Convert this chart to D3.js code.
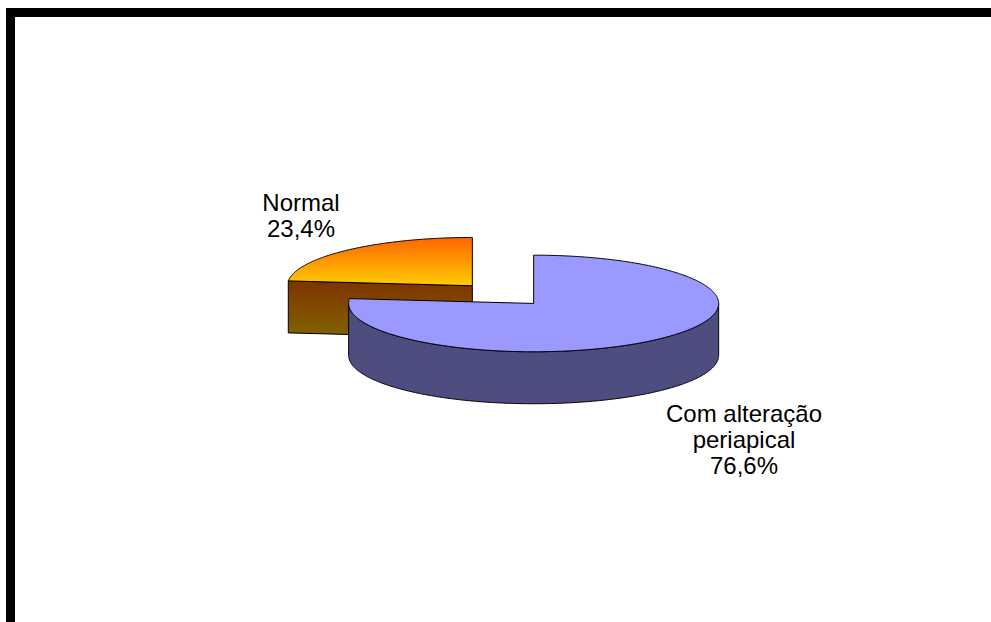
<!DOCTYPE html>
<html>
<head>
<meta charset="utf-8">
<script src="https://cdn.jsdelivr.net/npm/d3@7/dist/d3.min.js"></script>
<style>
  html, body { margin: 0; padding: 0; background: #ffffff; }
  svg { display: block; }
</style>
</head>
<body>
<svg id="chart" width="991" height="622"></svg>
<script>
// Distribution of radiographic findings
const categories = ["Com alteração periapical", "Normal"];
const values = [76.6, 23.4];
const valueLabels = ["76,6%", "23,4%"];
const labelLines = [["Com alteração", "periapical"], ["Normal"]];

const W = 991, H = 622;
const svg = d3.select("#chart");

// 3D pie geometry (tilted ellipse with extruded sides)
const cx0 = 503, cy0 = 294.6;
const rx = 185, ry = 48.3, depth = 52;
const explode = 0.247;

const defs = svg.append("defs");

const topFill = ["#9999FF", "url(#orangeTop)"];
const sideFill = ["#4D4D80", "url(#orangeSide)"];

const gTop = defs.append("linearGradient").attr("id", "orangeTop")
  .attr("x1", 0).attr("y1", 0).attr("x2", 0).attr("y2", 1);
gTop.append("stop").attr("offset", "0%").attr("stop-color", "#FF6600");
gTop.append("stop").attr("offset", "100%").attr("stop-color", "#FFCC00");

const gSide = defs.append("linearGradient").attr("id", "orangeSide")
  .attr("x1", 0).attr("y1", 0).attr("x2", 0).attr("y2", 1);
gSide.append("stop").attr("offset", "0%").attr("stop-color", "#7F3300");
gSide.append("stop").attr("offset", "100%").attr("stop-color", "#806400");

// Angles: clockwise from 12 o'clock, in data order
const pie = d3.pie().sort(null).value(d => d.v).startAngle(0).endAngle(2 * Math.PI);
const arcs = pie(values.map((v, i) => ({ v, i })));

const TAU = 2 * Math.PI;
const line = d3.line();

arcs.forEach(a => {
  const mid = (a.startAngle + a.endAngle) / 2;
  a.cx = cx0 + explode * rx * Math.sin(mid);
  a.cy = cy0 - explode * ry * Math.cos(mid);
});

function pt(a, ang, dy) {
  return [a.cx + rx * Math.sin(ang), a.cy - ry * Math.cos(ang) + (dy || 0)];
}

function arcPoints(a, a0, a1, dy) {
  const n = Math.max(2, Math.ceil(Math.abs(a1 - a0) / 0.01));
  return d3.range(n + 1).map(k => pt(a, a0 + (a1 - a0) * k / n, dy));
}

// Back slices first
const order = arcs.slice().sort((p, q) => p.cy - q.cy);

order.forEach(a => {
  const g = svg.append("g");
  const i = a.data.i;

  // radial walls facing the viewer
  const walls = [
    { ang: a.startAngle, normal: a.startAngle - Math.PI / 2 },
    { ang: a.endAngle, normal: a.endAngle + Math.PI / 2 }
  ];
  walls.forEach(w => {
    if (-Math.cos(w.normal) > 1e-3) {
      const c = [a.cx, a.cy];
      const e = pt(a, w.ang);
      const poly = [c, e, [e[0], e[1] + depth], [c[0], c[1] + depth]];
      g.append("path").attr("d", line(poly) + "Z")
        .attr("fill", sideFill[i]).attr("stroke", "#000").attr("stroke-width", 1)
        .attr("stroke-linejoin", "round");
    }
  });

  // outer curved wall: only the front half (between 90° and 270°)
  [[Math.PI / 2, 3 * Math.PI / 2]].forEach(([f0, f1]) => {
    for (let shift = -TAU; shift <= TAU; shift += TAU) {
      const s = Math.max(a.startAngle, f0 + shift);
      const e = Math.min(a.endAngle, f1 + shift);
      if (e - s > 1e-3) {
        const topPts = arcPoints(a, s, e, 0);
        const botPts = arcPoints(a, e, s, depth);
        g.append("path").attr("d", line(topPts.concat(botPts)) + "Z")
          .attr("fill", sideFill[i]).attr("stroke", "#000").attr("stroke-width", 1)
          .attr("stroke-linejoin", "round");
      }
    }
  });

  // top face
  const topPoly = [[a.cx, a.cy]].concat(arcPoints(a, a.startAngle, a.endAngle, 0));
  g.append("path").attr("d", line(topPoly) + "Z")
    .attr("fill", topFill[i]).attr("stroke", "#000").attr("stroke-width", 1)
    .attr("stroke-linejoin", "round");
});

// Data labels
const labelAnchor = [[744, 421.5], [301, 210.5]];
const lineH = 26;
arcs.forEach(a => {
  const i = a.data.i;
  const lines = labelLines[i].concat([valueLabels[i]]);
  const t = svg.append("text")
    .attr("x", labelAnchor[i][0]).attr("y", labelAnchor[i][1])
    .attr("text-anchor", "middle")
    .attr("font-family", "Liberation Sans, Arial, sans-serif")
    .attr("font-size", 24).attr("fill", "#000");
  lines.forEach((s, k) => {
    t.append("tspan").attr("x", labelAnchor[i][0]).attr("dy", k === 0 ? 0 : lineH).text(s);
  });
});

// Chart frame
svg.append("rect")
  .attr("x", 10.5).attr("y", 12.5)
  .attr("width", W + 20).attr("height", H + 20)
  .attr("fill", "none").attr("stroke", "#000").attr("stroke-width", 9);
</script>
</body>
</html>
